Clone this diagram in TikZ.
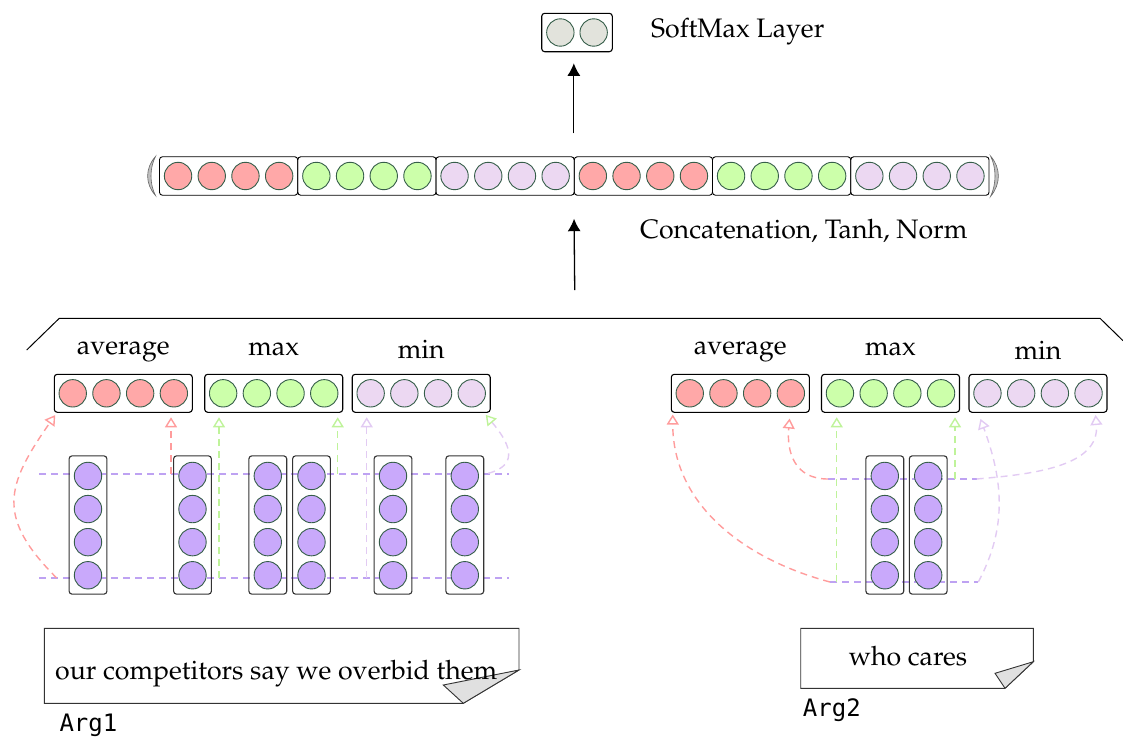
\documentclass[tikz,border=0pt]{standalone}
\usepackage{fontspec}
\newfontfamily\argfont{DejaVu Sans Mono}
\usetikzlibrary{arrows.meta}

% Palatino for the labels (Type 1, OT1 encoding)
\newcommand\palfont{\fontencoding{OT1}\fontfamily{ppl}\fontseries{m}\fontshape{n}\fontsize{26.7}{32}\selectfont}

\definecolor{unitedge}{HTML}{365E4A}
\definecolor{avgfill}{HTML}{FFA8A8}
\definecolor{maxfill}{HTML}{CCFFAA}
\definecolor{minfill}{HTML}{ECD8F2}
\definecolor{wordfill}{HTML}{C9A9FB}
\definecolor{smfill}{HTML}{E2E3DC}
\definecolor{avgline}{HTML}{FF9C9C}
\definecolor{maxline}{HTML}{BFF39A}
\definecolor{minline}{HTML}{E2CBF3}
\definecolor{wordline}{HTML}{BEA2F2}

\tikzset{
  unit/.style={circle, draw=unitedge, line width=0.9pt, minimum size=27.4pt, inner sep=0pt},
  vecbox/.style={draw=black, rounded corners=3pt, line width=1.1pt, inner sep=0pt,
                 minimum width=138pt, minimum height=38pt},
  catbox/.style={vecbox, minimum width=138.25pt, minimum height=38.5pt, line width=0.9pt},
  colbox/.style={draw=black!80, rounded corners=3pt, line width=1.1pt, inner sep=0pt,
                 minimum width=37.8pt, minimum height=138.3pt},
  lbl/.style={font=\palfont, inner sep=0pt, anchor=base},
  seq/.style={wordline, line width=1.4pt, dash pattern=on 7pt off 5pt},
  pool/.style={line width=1.4pt, dash pattern=on 7pt off 5pt,
               -{Triangle[open, length=10pt, width=12pt]}},
  avgarrow/.style={pool, avgline},
  maxarrow/.style={pool, maxline},
  minarrow/.style={pool, minline},
  flow/.style={line width=1.3pt, -{Latex[length=12.5pt, width=13pt]}},
  doc/.style={draw=black!80, line width=0.9pt},
  fold/.style={doc, fill=black!12},
  argtag/.style={anchor=base west, inner sep=0pt, font=\argfont\fontsize{24}{28}\selectfont},
}

% a box holding four units side by side
\newcommand\unitrow[5][vecbox]{%
  \node[#1] (#2) at (#3,#4) {};
  \foreach \k/\d in {1/-50.55,2/-16.85,3/16.85,4/50.55}
    \node[unit, fill=#5] (#2-\k) at ([xshift=\d pt]#2.center) {};
}
% a word vector: four units stacked
\newcommand\unitcol[3]{%
  \node[colbox] (#1) at (#2,#3) {};
  \foreach \k/\d in {1/49.05,2/15.95,3/-17.15,4/-50.25}
    \node[unit, fill=wordfill] (#1-\k) at ([yshift=\d pt]#1.center) {};
}

\begin{document}
\begin{tikzpicture}[x=1pt, y=-1pt]
\useasboundingbox (0,0) rectangle (1123,736);

% ---------- output layer ----------
\node[vecbox, minimum width=70.6pt, minimum height=38.4pt] (sm) at (577,32.5) {};
\node[unit, fill=smfill] (sm-1) at ([xshift=-16.65pt]sm.center) {};
\node[unit, fill=smfill] (sm-2) at ([xshift=16.65pt]sm.center) {};
\node[lbl, anchor=base west] (smlabel) at (651,37.5) {SoftMax Layer};

% ---------- concatenated vector ----------
\unitrow[catbox]{cat1}{228.6}{176}{avgfill}
\unitrow[catbox]{cat2}{366.9}{176}{maxfill}
\unitrow[catbox]{cat3}{505.1}{176}{minfill}
\unitrow[catbox]{cat4}{643.4}{176}{avgfill}
\unitrow[catbox]{cat5}{781.6}{176}{maxfill}
\unitrow[catbox]{cat6}{919.9}{176}{minfill}
% delimiters around it
\filldraw[fill=black!25, draw=black!60, line width=0.6pt]
  (155.5,156.5) .. controls (145,168) and (145,184) .. (155.5,195.5)
                .. controls (149.5,184) and (149.5,168) .. (155.5,156.5) -- cycle;
\filldraw[fill=black!25, draw=black!60, line width=0.6pt]
  (990.5,156) .. controls (1001,168) and (1001,184) .. (990.5,196.5)
              .. controls (996.5,184) and (996.5,168) .. (990.5,156) -- cycle;
\node[lbl, anchor=base west] (catlabel) at (640,238.3) {Concatenation, Tanh, Norm};

\draw[flow, shorten <=23pt, shorten >=11pt] (cat4.north west) -- (cat4.north west |- sm.south);

% ---------- pooling bracket ----------
\coordinate (poolapex) at (575,318.3);
\draw[line width=1pt] (26.7,350) -- (59.3,318.3) -- (1100,318.3) -- (1123,340.7);
\draw[flow, shorten <=28.3pt, shorten >=23pt] (poolapex) -- (cat4.south west);

% ---------- sequence lines (behind the word vectors) ----------
\coordinate (tlL-a) at (39,474);    \coordinate (tlL-b) at (509.3,474);
\coordinate (blL-a) at (39,578);    \coordinate (blL-b) at (509.3,578);
\coordinate (tlR-a) at (828,479);   \coordinate (tlR-b) at (976.7,479);
\coordinate (blR-a) at (830,582);   \coordinate (blR-b) at (978.3,582);
\draw[seq] (tlL-a) -- (tlL-b);
\draw[seq] (blL-a) -- (blL-b);
\draw[seq] (tlR-a) -- (tlR-b);
\draw[seq] (blR-a) -- (blR-b);

% ---------- pooled vectors ----------
\unitrow{avgL}{123.3}{393.3}{avgfill}
\unitrow{maxL}{273.7}{393.3}{maxfill}
\unitrow{minL}{421.2}{393.3}{minfill}
\unitrow{avgR}{740.3}{393.3}{avgfill}
\unitrow{maxR}{890.5}{393.3}{maxfill}
\unitrow{minR}{1038}{393.3}{minfill}

\node[lbl] (avgLlabel) at ([yshift=19.3pt]avgL.north) {average};
\node[lbl] (maxLlabel) at ([yshift=18.3pt]maxL.north) {max};
\node[lbl] (minLlabel) at ([yshift=15.3pt]minL.north) {min};
\node[lbl] (avgRlabel) at ([yshift=19.3pt]avgR.north) {average};
\node[lbl] (maxRlabel) at ([yshift=18.3pt]maxR.north) {max};
\node[lbl] (minRlabel) at ([yshift=14.3pt]minR.north) {min};

% ---------- word vectors ----------
\unitcol{wL1}{88}{525}
\unitcol{wL2}{192.5}{525}
\unitcol{wL3}{267.8}{525}
\unitcol{wL4}{311.5}{525}
\unitcol{wL5}{393}{525}
\unitcol{wL6}{464.8}{525}
\unitcol{wR1}{884.8}{525}
\unitcol{wR2}{928.2}{525}

% ---------- pooling connectors, Arg1 ----------
\coordinate (pL1) at (56.7,578);
\coordinate (pL2) at (171,474);
\coordinate (pL3) at (219,578);
\coordinate (pL4) at (337.7,474);
\coordinate (pL5) at (366.7,578);
\coordinate (pL6) at (488.3,473.3);
\draw[avgarrow] (pL1) to[out=135, in=235, looseness=1.35] ([shift={(1.5pt,-2.2pt)}]avgL.south west);
\draw[avgarrow, shorten >=4.4pt] (pL2) -- (pL2 |- avgL.south);
\draw[maxarrow, shorten >=4.4pt] (pL3) -- (pL3 |- maxL.south);
\draw[maxarrow, shorten >=4.4pt] (pL4) -- (pL4 |- maxL.south);
\draw[minarrow, shorten >=4.4pt] (pL5) -- (pL5 |- minL.south);
\draw[minline, line width=1.4pt, dash pattern=on 7pt off 5pt,
      -{Triangle[open, length=10pt, width=12pt, color=maxline]}]
  (pL6) to[out=15, in=-50, looseness=1.5] ([shift={(-5pt,-2pt)}]minL.south east);

% ---------- pooling connectors, Arg2 ----------
\coordinate (pR3) at (836.7,582);
\coordinate (pR4) at (955,479);
\draw[avgarrow] (blR-a) to[out=165, in=-90] ([shift={(2pt,-1.7pt)}]avgR.south west);
\draw[maxarrow, shorten >=4.4pt] (pR3) -- (pR3 |- maxR.south);
\draw[avgarrow] (tlR-a) to[out=180, in=-95, looseness=1.2] ([shift={(-20.3pt,-5.7pt)}]avgR.south east);
\draw[maxarrow, shorten >=4.4pt] (pR4) -- (pR4 |- maxR.south);
\draw[minarrow] (tlR-b) to[out=5, in=-85] ([shift={(-12pt,-2.2pt)}]minR.south east);
\draw[minarrow] (blR-b) to[out=62, in=-70] ([shift={(12pt,-6pt)}]minR.south west);

% ---------- input sentences ----------
\draw[doc] (44.3,628.3) -- (519,628.3) -- (519,670) -- (463.3,703.3) -- (44.3,703.3) -- cycle;
\filldraw[fold] (519,670) -- (443.3,685) -- (463.3,703.3) -- cycle;
\node[lbl, anchor=base west] (arg1text) at (55,679.5) {our competitors say we overbid them};
\node[argtag] (arg1) at (59.3,731.7) {Arg1};

\draw[doc] (800.7,628.3) -- (1033.3,628.3) -- (1033.3,661.7) -- (1005,688.3) -- (800.7,688.3) -- cycle;
\filldraw[fold] (1033.3,661.7) -- (995,673.3) -- (1005,688.3) -- cycle;
\node[lbl] (arg2text) at (908,665) {who cares};
\node[argtag] (arg2) at (802.7,716.7) {Arg2};
\end{tikzpicture}
\end{document}
